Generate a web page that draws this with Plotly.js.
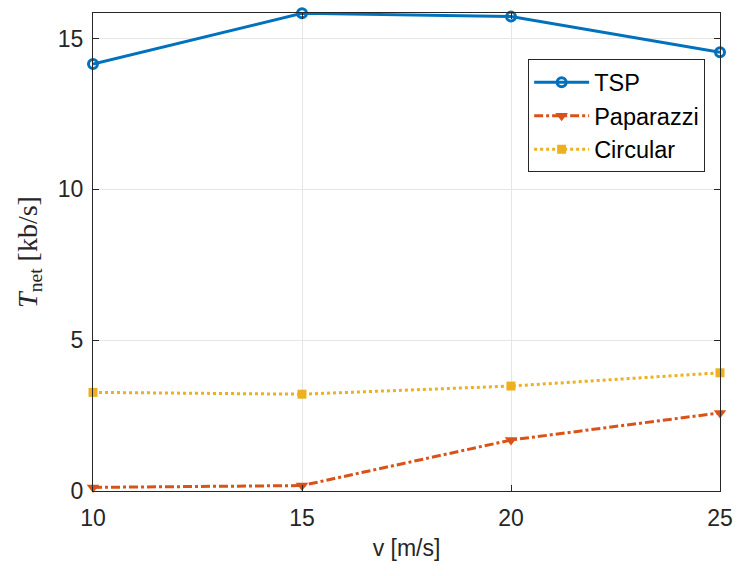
<!DOCTYPE html>
<html><head><meta charset="utf-8">
<script src="https://cdn.plot.ly/plotly-3.0.1.min.js"></script>
<style>html,body{margin:0;padding:0;background:#fff}</style>
</head><body><div id="chart" style="width:737px;height:576px"></div>
<script>
const speeds = [10, 15, 20, 25];
const tspValues = [14.16, 15.84, 15.73, 14.55];
const paparazziValues = [0.12, 0.18, 1.69, 2.59];
const circularValues = [3.27, 3.21, 3.48, 3.92];
const seriesNames = ['TSP', 'Paparazzi', 'Circular'];
const xTicks = [10, 15, 20, 25];
const yTicks = [0, 5, 10, 15];

const font = 'Liberation Sans, Arial, sans-serif';
const traces = [
  {x: speeds, y: tspValues, name: seriesNames[0], mode: 'lines+markers', cliponaxis: false,
   line: {color: '#0072BD', width: 3, dash: 'solid'},
   marker: {symbol: 'circle-open', size: 9, color: '#0072BD', line: {width: 3, color: '#0072BD'}}},
  {x: speeds, y: paparazziValues, name: seriesNames[1], mode: 'lines+markers', cliponaxis: false,
   line: {color: '#D95319', width: 3, dash: 'dashdot'},
   marker: {symbol: 'triangle-down', size: 11, color: '#D95319'}},
  {x: speeds, y: circularValues, name: seriesNames[2], mode: 'lines+markers', cliponaxis: false,
   line: {color: '#EDB120', width: 3, dash: 'dot'},
   marker: {symbol: 'square', size: 9, color: '#EDB120'}}
];
const axisCommon = {
  showline: true, mirror: 'ticks', linecolor: '#262626', linewidth: 1,
  ticks: 'inside', ticklen: 6, tickcolor: '#262626',
  showgrid: true, gridcolor: '#e6e6e6', gridwidth: 1, zeroline: false,
  tickfont: {family: font, size: 23, color: '#262626'}
};
const layout = {
  width: 737, height: 576,
  margin: {l: 93, r: 17, t: 13, b: 85},
  paper_bgcolor: '#fff', plot_bgcolor: '#fff',
  showlegend: true,
  legend: {x: 0.694, y: 0.903, xanchor: 'left', yanchor: 'top',
    bgcolor: '#fff', bordercolor: '#262626', borderwidth: 1,
    font: {family: font, size: 23.5, color: '#000'}, tracegroupgap: 0, itemwidth: 55},
  xaxis: Object.assign({}, axisCommon, {range: [10, 25], tickvals: xTicks, ticklabelstandoff: 6,
    title: {text: 'v [m/s]', font: {family: font, size: 23, color: '#262626'}, standoff: 10}}),
  yaxis: Object.assign({}, axisCommon, {range: [0, 15.85], tickvals: yTicks, ticklabelstandoff: 4,
    title: {text: '<i>T</i><sub>net</sub> [kb/s]', font: {family: 'Liberation Serif, Times New Roman, serif', size: 28, color: '#262626'}, standoff: 12}})
};
Plotly.newPlot('chart', traces, layout, {displayModeBar: false, staticPlot: true});
</script></body></html>
